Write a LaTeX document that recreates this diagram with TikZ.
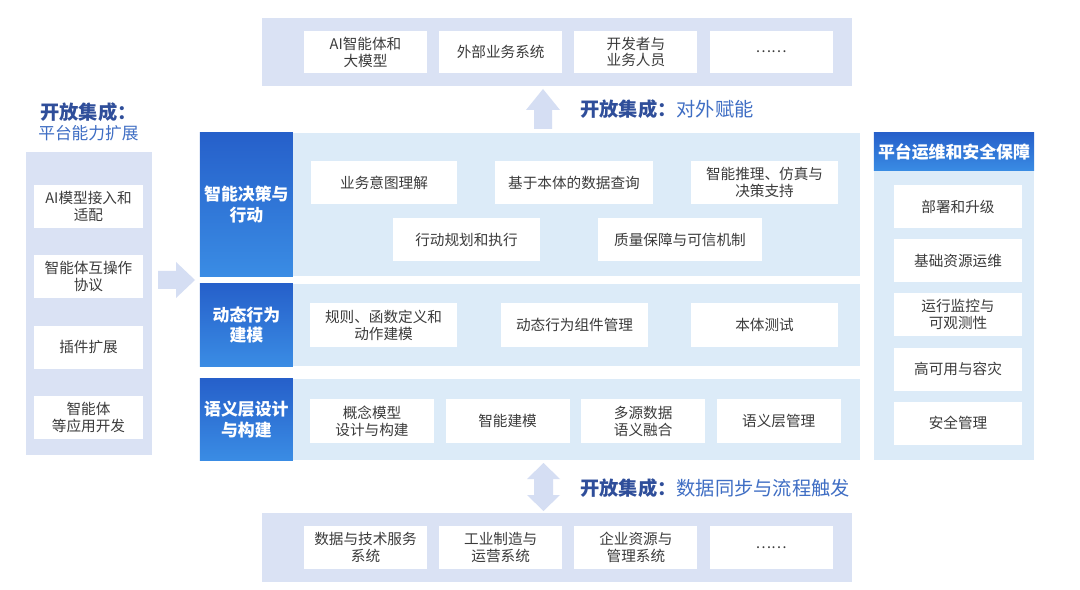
\documentclass[tikz,border=0pt]{standalone}
\usepackage{fontspec}
\setmainfont{Noto Sans CJK SC}
\usetikzlibrary{positioning}

\definecolor{panelbg}{HTML}{DAE2F4}
\definecolor{layerbg}{HTML}{DCEBF8}
\definecolor{arrowbg}{HTML}{D5DEF3}
\definecolor{headtop}{HTML}{2660CA}
\definecolor{headbot}{HTML}{3A8CE4}
\definecolor{titledark}{HTML}{2F4E9A}
\definecolor{titlelight}{HTML}{3F6EC4}
\definecolor{itemtext}{HTML}{3B3B3B}

\tikzset{
    panel/.style={fill=panelbg, inner sep=0pt},
    layer/.style={fill=layerbg, inner sep=0pt},
    head/.style={top color=headtop, bottom color=headbot, text=white, inner sep=0pt,
        align=center, font=\fontsize{12}{14.5}\selectfont\bfseries},
    item/.style={fill=white, text=itemtext, inner sep=0pt, align=center,
        minimum height=1.075cm, font=\fontsize{10.4}{12}\selectfont},
    blockarrow/.style={fill=arrowbg},
    label/.style={inner sep=0pt, font=\fontsize{13.7}{15}\selectfont}
}

\begin{document}
\begin{tikzpicture}[x=0.025cm, y=-0.025cm]
    \useasboundingbox (0,0) rectangle (1080,590);
    \fill[white] (0,0) rectangle (1080,590);

    % top: external side
    \node (P) [panel, minimum width=14.75cm, minimum height=1.7cm] at (557,52) {};
    \node (P1) [item, minimum width=3.075cm, minimum height=1.05cm] at (365.5,52) {AI智能体和\\大模型};
    \node (P2) [item, minimum width=3.075cm, minimum height=1.05cm, right=0.29cm of P1] {外部业务系统};
    \node (P3) [item, minimum width=3.075cm, minimum height=1.05cm, right=0.29cm of P2] {开发者与\\业务人员};
    \node (P4) [item, minimum width=3.075cm, minimum height=1.05cm, right=0.29cm of P3] {……};

    % bottom: source systems
    \node (Q) [panel, minimum width=14.75cm, minimum height=1.7cm] at (557,547.5) {};
    \node (Q1) [item, minimum width=3.075cm, minimum height=1.05cm] at (365.5,547.5) {数据与技术服务\\系统};
    \node (Q2) [item, minimum width=3.075cm, minimum height=1.05cm, right=0.29cm of Q1] {工业制造与\\运营系统};
    \node (Q3) [item, minimum width=3.075cm, minimum height=1.05cm, right=0.29cm of Q2] {企业资源与\\管理系统};
    \node (Q4) [item, minimum width=3.075cm, minimum height=1.05cm, right=0.29cm of Q3] {……};

    % left: platform extension
    \node (E1) [label, anchor=west, text=titledark] at (40,112) {\bfseries 开放集成：};
    \node (E2) [label, anchor=west, text=titlelight, font=\fontsize{11.9}{14}\selectfont] at (38,133.5) {平台能力扩展};
    \node (S) [panel, minimum width=3.15cm, minimum height=7.575cm] at (89,303.5) {};
    \node (S1) [item, minimum width=2.725cm] at (88.5,206.5) {AI模型接入和\\适配};
    \node (S2) [item, minimum width=2.725cm, below=0.67cm of S1] {智能体互操作\\协议};
    \node (S3) [item, minimum width=2.725cm, below=0.67cm of S2] {插件扩展};
    \node (S4) [item, minimum width=2.725cm, below=0.67cm of S3] {智能体\\等应用开发};

    % layers
    \node (L1) [layer, minimum width=16.5cm, minimum height=3.575cm] at (530,204.5) {};
    \node (H1) [head, minimum width=2.325cm, minimum height=3.575cm, anchor=west] at (L1.west) {智能决策与\\行动};
    \node (A1) [item, minimum width=3.65cm] at (384,182.5) {业务意图理解};
    \node (A2) [item, minimum width=3.95cm] at (574,182.5) {基于本体的数据查询};
    \node (A3) [item, minimum width=3.675cm] at (764.5,182.5) {智能推理、仿真与\\决策支持};
    \node (A4) [item, minimum width=3.675cm] at (466.5,239.5) {行动规划和执行};
    \node (A5) [item, minimum width=4.1cm] at (680,239.5) {质量保障与可信机制};

    \node (L2) [layer, minimum width=16.5cm, minimum height=2.05cm] at (530,325) {};
    \node (H2) [head, minimum width=2.325cm, minimum height=2.05cm, anchor=west] at (L2.west) {动态行为\\建模};
    \node (B1) [item, minimum width=3.675cm, minimum height=1.1cm] at (383.5,325) {规则、函数定义和\\动作建模};
    \node (B2) [item, minimum width=3.675cm, minimum height=1.1cm] at (574.5,325) {动态行为组件管理};
    \node (B3) [item, minimum width=3.675cm, minimum height=1.1cm] at (764.5,325) {本体测试};

    \node (L3) [layer, minimum width=16.5cm, minimum height=2.025cm] at (530,419.5) {};
    \node (H3) [head, minimum width=2.325cm, minimum height=2.025cm, anchor=west] at (L3.west) {语义层设计\\与构建};
    \node (C1) [item, minimum width=3.1cm, minimum height=1.1cm] at (372,421) {概念模型\\设计与构建};
    \node (C2) [item, minimum width=3.1cm, minimum height=1.1cm, right=0.275cm of C1] {智能建模};
    \node (C3) [item, minimum width=3.1cm, minimum height=1.1cm, right=0.275cm of C2] {多源数据\\语义融合};
    \node (C4) [item, minimum width=3.1cm, minimum height=1.1cm, right=0.275cm of C3] {语义层管理};

    % right: operations and security
    \node (R) [layer, minimum width=4cm, minimum height=8.175cm] at (954,296.5) {};
    \node (RH) [head, minimum width=4cm, minimum height=0.95cm, anchor=north] at (R.north) {平台运维和安全保障};
    \node (R1) [item, minimum width=3.2cm] at (958,206.5) {部署和升级};
    \node (R2) [item, minimum width=3.2cm, below=0.265cm of R1] {基础资源运维};
    \node (R3) [item, minimum width=3.2cm, below=0.265cm of R2] {运行监控与\\可观测性};
    \node (R4) [item, minimum width=3.2cm, below=0.265cm of R3] {高可用与容灾};
    \node (R5) [item, minimum width=3.2cm, below=0.265cm of R4] {安全管理};

    % block arrows and their captions
    \fill[blockarrow] (158,271) -- (176,271) -- (176,262) -- (195,280) -- (176,298) -- (176,289) -- (158,289) -- cycle;
    \fill[blockarrow] (534,129) -- (534,110) -- (526,110) -- (543,89) -- (560,110) -- (552,110) -- (552,129) -- cycle;
    \fill[blockarrow] (543.5,463) -- (560,479) -- (553,479) -- (553,495) -- (560,495) -- (543.5,511)
        -- (527,495) -- (534,495) -- (534,479) -- (527,479) -- cycle;
    \node (U) [label, anchor=west] at (580,109.5)
        {\textcolor{titledark}{\bfseries 开放集成：}\textcolor{titlelight}{对外赋能}};
    \node (D) [label, anchor=west] at (580,488)
        {\textcolor{titledark}{\bfseries 开放集成：}\textcolor{titlelight}{数据同步与流程触发}};
\end{tikzpicture}
\end{document}
